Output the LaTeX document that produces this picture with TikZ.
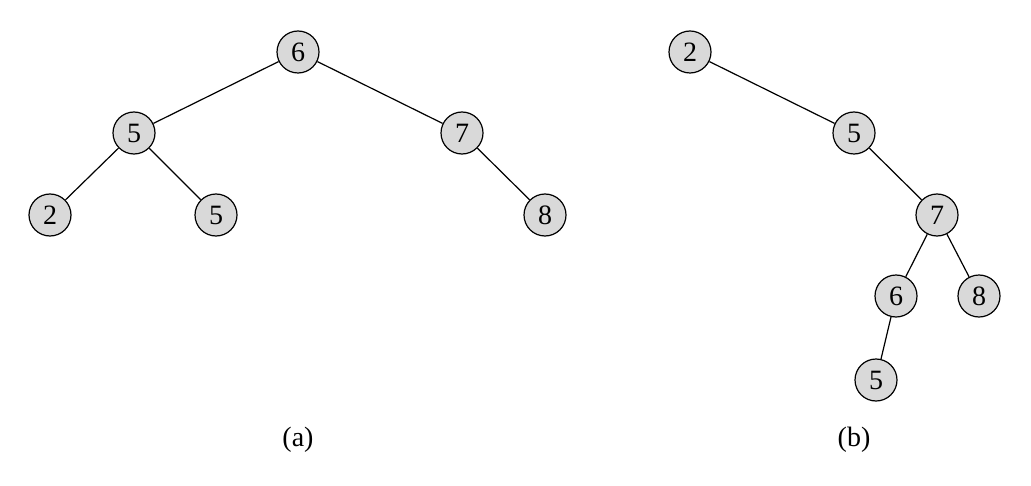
\documentclass[tikz,border=0pt]{standalone}
\usepackage{fontspec}
\setmainfont{Liberation Serif}
\usepackage{tikz}
\usetikzlibrary{positioning}
\definecolor{nodegray}{HTML}{D9D9D9}

\begin{document}
\begin{tikzpicture}[
  x=0.5pt, y=-0.5pt,
  key/.style={circle, draw=black, line width=0.6pt, fill=nodegray, minimum size=21pt, inner sep=0pt, font=\fontsize{14}{16}\selectfont},
  treeedge/.style={draw=black, line width=0.6pt},
  caption/.style={font=\fontsize{14}{16}\selectfont}
]
\useasboundingbox (0,0) rectangle (1031,486);
% tree (a)
\node[key] (a6)  at (298,52)  {6};
\node[key] (a5)  at (134,133) {5};
\node[key] (a7)  at (462,133) {7};
\node[key] (a2)  at (50,215)  {2};
\node[key] (a5b) at (216,215) {5};
\node[key] (a8)  at (545,215) {8};
% tree (b)
\node[key] (b2)  at (690,52)  {2};
\node[key] (b5)  at (854,133) {5};
\node[key] (b7)  at (937,215) {7};
\node[key] (b6)  at (896,296) {6};
\node[key] (b8)  at (979,296) {8};
\node[key] (b5b) at (876,380) {5};
\begin{scope}[on background layer/.try]
\foreach \u/\v in {a6/a5, a6/a7, a5/a2, a5/a5b, a7/a8,
                   b2/b5, b5/b7, b7/b6, b7/b8, b6/b5b}
  \draw[treeedge] (\u) -- (\v);
\end{scope}
\node[caption] (capa) at (298,440) {(a)};
\node[caption] (capb) at (854,440) {(b)};
\end{tikzpicture}
\end{document}
